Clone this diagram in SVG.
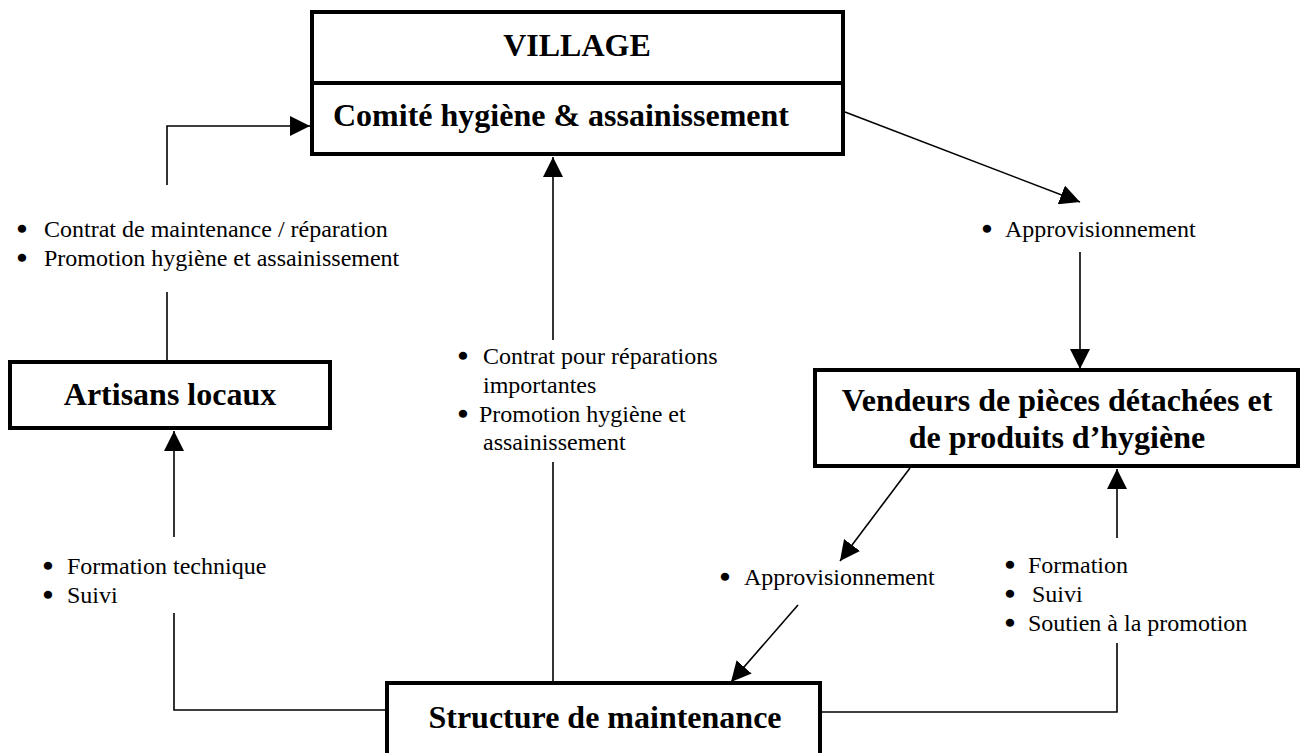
<svg xmlns="http://www.w3.org/2000/svg" width="1304" height="753" viewBox="0 0 1304 753">
<style>
.box{fill:#fff;stroke:#000;stroke-width:4}
.ttl{font-family:"Liberation Serif",serif;font-weight:bold;font-size:32px;fill:#000}
.lbl{font-family:"Liberation Serif",serif;font-size:24px;fill:#000}
.bul{font-family:"Liberation Serif",serif;font-size:24px;fill:#000;stroke:#000;stroke-width:2.6;text-anchor:middle}
.ln{fill:none;stroke:#000;stroke-width:1.6}
</style>
<defs>
<marker id="ah" markerUnits="userSpaceOnUse" markerWidth="20" markerHeight="20" refX="20" refY="10" orient="auto">
<path d="M0,0 L20,10 L0,20 Z" fill="#000"/>
</marker>
</defs>
<g id="connectors">
<path class="ln" d="M167,185 V126 H310" marker-end="url(#ah)"/>
<path class="ln" d="M167,292 V362"/>
<path class="ln" d="M174,537 V431" marker-end="url(#ah)"/>
<path class="ln" d="M174,613 V710 H387"/>
<path class="ln" d="M553,683 V462"/>
<path class="ln" d="M553,340 V157" marker-end="url(#ah)"/>
<path class="ln" d="M845,112 L1080,202" marker-end="url(#ah)"/>
<path class="ln" d="M1080,252 V369" marker-end="url(#ah)"/>
<path class="ln" d="M910,468 L840,561" marker-end="url(#ah)"/>
<path class="ln" d="M798,605 L731,682" marker-end="url(#ah)"/>
<path class="ln" d="M821,712 H1117 V643"/>
<path class="ln" d="M1117,538 V469" marker-end="url(#ah)"/>
</g>
<g id="village">
<rect class="box" x="312" y="12" width="531" height="142"/>
<line x1="312" y1="83" x2="843" y2="83" stroke="#000" stroke-width="4"/>
<text class="ttl" x="577" y="56" text-anchor="middle">VILLAGE</text>
<text class="ttl" x="333" y="126">Comité hygiène &amp; assainissement</text>
</g>
<g id="artisans">
<rect class="box" x="10" y="362" width="320" height="66"/>
<text class="ttl" x="170" y="405" text-anchor="middle">Artisans locaux</text>
</g>
<g id="vendeurs">
<rect class="box" x="815" y="370" width="483" height="96"/>
<text class="ttl" x="1057" y="411" text-anchor="middle">Vendeurs de pièces détachées et</text>
<text class="ttl" x="1057" y="448" text-anchor="middle">de produits d’hygiène</text>
</g>
<g id="structure">
<rect class="box" x="387" y="683" width="433" height="80"/>
<text class="ttl" x="605" y="728" text-anchor="middle">Structure de maintenance</text>
</g>
<g id="labels">
<text class="bul" x="22" y="237">•</text>
<text class="lbl" x="44" y="237">Contrat de maintenance / réparation</text>
<text class="bul" x="22" y="266">•</text>
<text class="lbl" x="44" y="266">Promotion hygiène et assainissement</text>
<text class="bul" x="463" y="364">•</text>
<text class="lbl" x="483" y="364">Contrat pour réparations</text>
<text class="lbl" x="483" y="393">importantes</text>
<text class="bul" x="463" y="422">•</text>
<text class="lbl" x="479" y="422">Promotion hygiène et</text>
<text class="lbl" x="483" y="450">assainissement</text>
<text class="bul" x="987" y="237">•</text>
<text class="lbl" x="1005" y="237">Approvisionnement</text>
<text class="bul" x="48" y="574">•</text>
<text class="lbl" x="67" y="574">Formation technique</text>
<text class="bul" x="48" y="603">•</text>
<text class="lbl" x="67" y="603">Suivi</text>
<text class="bul" x="725" y="585">•</text>
<text class="lbl" x="744" y="585">Approvisionnement</text>
<text class="bul" x="1010" y="573">•</text>
<text class="lbl" x="1028" y="573">Formation</text>
<text class="bul" x="1010" y="602">•</text>
<text class="lbl" x="1032" y="602">Suivi</text>
<text class="bul" x="1010" y="631">•</text>
<text class="lbl" x="1028" y="631">Soutien à la promotion</text>
</g>
</svg>
